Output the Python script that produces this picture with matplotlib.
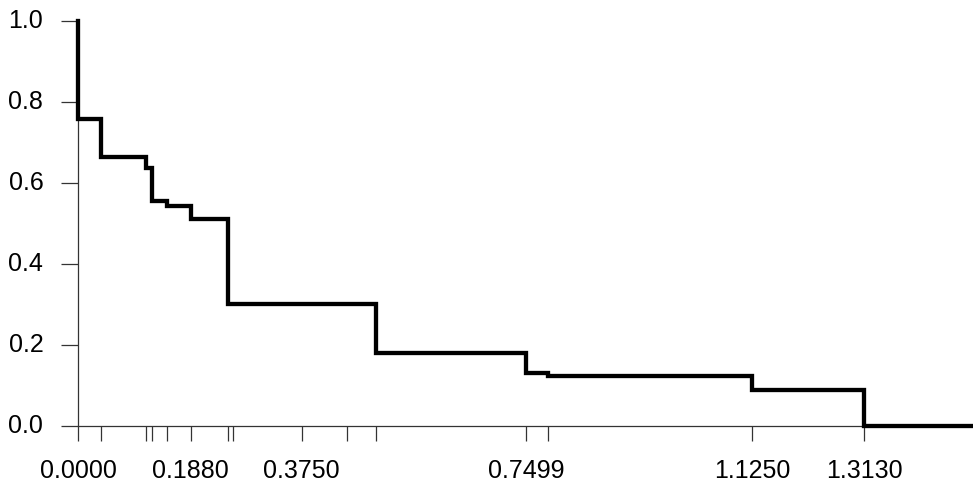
import numpy as np
import matplotlib
matplotlib.use("Agg")
import matplotlib.pyplot as plt

plt.rcParams['font.family'] = ['Liberation Sans', 'DejaVu Sans']

# tempos dos degraus e valores da curva (passo "post")
tempos = [0.0, 0.0, 0.0379, 0.1135, 0.123, 0.148, 0.188, 0.251, 0.4975, 0.748, 0.785, 1.125, 1.313, 1.494]
sobrev = [1.0, 0.757, 0.663, 0.637, 0.556, 0.544, 0.511, 0.302, 0.180, 0.130, 0.124, 0.088, 0.0, 0.0]

# marcas do eixo x (só algumas com rótulo)
xticks = [0.0, 0.0379, 0.1135, 0.123, 0.148, 0.188, 0.251, 0.259, 0.3735, 0.4496, 0.4975, 0.748, 0.785, 1.125, 1.3122]
xlabels = ['0.0000', '', '', '', '', '0.1880', '', '', '0.3750', '', '', '0.7499', '', '1.1250', '1.3130']
yticks = [0.0, 0.2, 0.4, 0.6, 0.8, 1.0]
ylabels = ['0.0', '0.2', '0.4', '0.6', '0.8', '1.0']

W, H = 973, 486
fig = plt.figure(figsize=(W/100, H/100), dpi=100)
ax = fig.add_axes([78/W, 60/H, (W-78)/W, 405/H])

ax.step(tempos, sobrev, where='post', color='black', lw=3.1,
        clip_on=False, solid_joinstyle='miter', zorder=3)

ax.set_xlim(0, (W-78)/599)
ax.set_ylim(0, 1)

for s in ['top', 'right']:
    ax.spines[s].set_visible(False)
for s in ['left', 'bottom']:
    ax.spines[s].set_color('#333333')
    ax.spines[s].set_linewidth(0.9)

ax.set_xticks(xticks)
ax.set_xticklabels(xlabels)
ax.set_yticks(yticks)
ax.set_yticklabels(ylabels)
ax.tick_params(axis='x', length=11, width=0.9, color='#333333', pad=13, labelsize=18)
ax.tick_params(axis='y', length=12, width=0.9, color='#333333', pad=13, labelsize=18)
for lab in ax.get_yticklabels():
    lab.set_va('center')
    lab.set_y(lab.get_position()[1])

fig.savefig('out.png', dpi=100)
